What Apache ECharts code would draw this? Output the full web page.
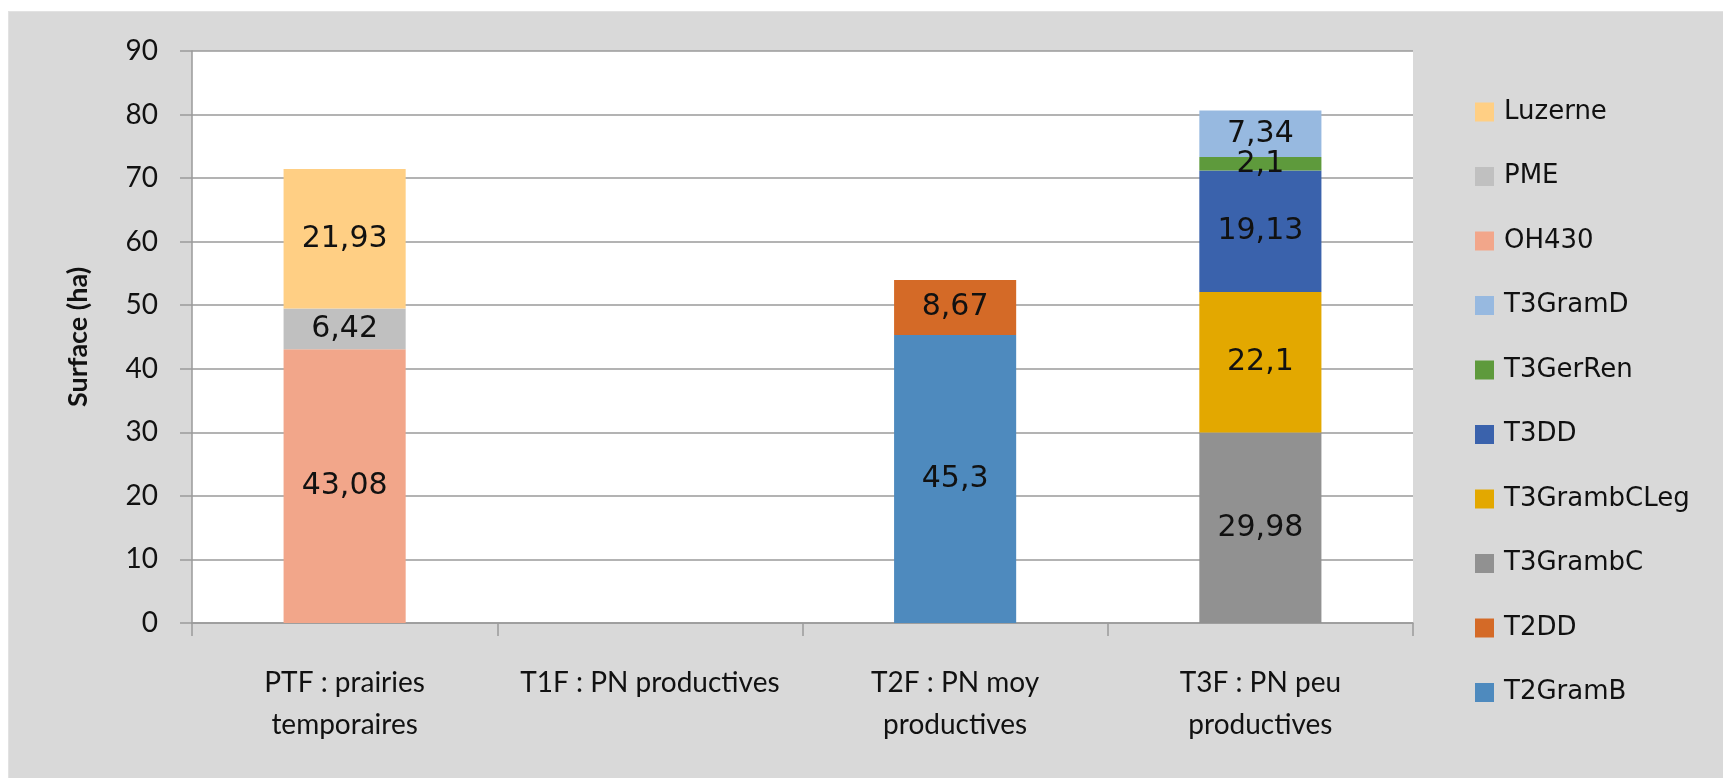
<!DOCTYPE html>
<html>
<head>
<meta charset="utf-8">
<script src="https://cdn.jsdelivr.net/npm/echarts@6/dist/echarts.min.js"></script>
<style>
  html, body { margin:0; padding:0; background:#ffffff; }
  #bg { position:absolute; left:8px; top:11px; width:1715px; height:767px; background:#d9d9d9; border-left:1px solid #e2e2e2; border-top:1px solid #e2e2e2; box-sizing:border-box; }
  #chart { position:absolute; left:0; top:0; width:1723px; height:778px; }
</style>
</head>
<body>
<div id="bg"></div>
<div id="chart"></div>
<script>
// Categories (x axis)
const categories = ["PTF : prairies\ntemporaires", "T1F : PN productives", "T2F : PN moy\nproductives", "T3F : PN peu\nproductives"];
// Y axis ticks
const yMin = 0, yMax = 90, yStep = 10;
const yAxisName = "Surface (ha)";

// Series values (stacked, bottom to top), one value per category
const T2GramB     = [null, null, 45.3, null];
const T2DD        = [null, null, 8.67, null];
const T3GrambC    = [null, null, null, 29.98];
const T3GrambCLeg = [null, null, null, 22.1];
const T3DD        = [null, null, null, 19.13];
const T3GerRen    = [null, null, null, 2.1];
const T3GramD     = [null, null, null, 7.34];
const OH430       = [43.08, null, null, null];
const PME         = [6.42, null, null, null];
const Luzerne     = [21.93, null, null, null];

const seriesDefs = [
  { name: "T2GramB", data: T2GramB, color: "#4E8ABE" },
  { name: "T2DD", data: T2DD, color: "#D46A27" },
  { name: "T3GrambC", data: T3GrambC, color: "#919191" },
  { name: "T3GrambCLeg", data: T3GrambCLeg, color: "#E3A800" },
  { name: "T3DD", data: T3DD, color: "#3A62AC" },
  { name: "T3GerRen", data: T3GerRen, color: "#5E9A3C" },
  { name: "T3GramD", data: T3GramD, color: "#97B9E0" },
  { name: "OH430", data: OH430, color: "#F2A68A" },
  { name: "PME", data: PME, color: "#C0C0C0" },
  { name: "Luzerne", data: Luzerne, color: "#FFCF84" }
];
const legendOrder = ["Luzerne", "PME", "OH430", "T3GramD", "T3GerRen", "T3DD", "T3GrambCLeg", "T3GrambC", "T2DD", "T2GramB"];

const chart = echarts.init(document.getElementById('chart'), null, { renderer: 'canvas' });
const axisGray = '#9a9a9a';

const option = {
  backgroundColor: 'transparent',
  animation: false,
  grid: {
    left: 192, right: 310, top: 51, bottom: 155,
    show: true, backgroundColor: '#ffffff', borderWidth: 0
  },
  legend: {
    orient: 'vertical',
    left: 1470, top: 92,
    itemWidth: 19, itemHeight: 19,
    itemGap: 34.5,
    icon: 'rect',
    data: legendOrder,
    textStyle: { fontFamily: 'DejaVu Sans', fontSize: 26, color: '#111', lineHeight: 30, padding: [0, 0, 0, 5] }
  },
  xAxis: {
    type: 'category',
    data: categories,
    axisLine: { show: true, lineStyle: { color: axisGray, width: 1.5 } },
    axisTick: { show: true, alignWithLabel: false, length: 13, lineStyle: { color: axisGray, width: 1.5 } },
    axisLabel: { fontFamily: 'Lato', fontSize: 28, color: '#111', margin: 39, lineHeight: 42, interval: 0 },
    splitLine: { show: false }
  },
  yAxis: {
    type: 'value',
    min: yMin, max: yMax, interval: yStep,
    name: yAxisName,
    nameLocation: 'middle',
    nameGap: 100,
    nameRotate: 90,
    nameTextStyle: { fontFamily: 'Lato', fontWeight: 'bold', fontSize: 27, color: '#111' },
    axisLine: { show: true, lineStyle: { color: axisGray, width: 1.5 } },
    axisTick: { show: true, length: 12, lineStyle: { color: axisGray, width: 1.5 } },
    axisLabel: { fontFamily: 'Lato', fontSize: 28, color: '#111', margin: 34 },
    splitLine: { show: true, lineStyle: { color: axisGray, width: 1.5 } }
  },
  series: seriesDefs.map(s => ({
    name: s.name,
    type: 'bar',
    stack: 'total',
    data: s.data,
    barWidth: '40%',
    itemStyle: { color: s.color },
    label: {
      show: true,
      position: 'inside',
      fontFamily: 'DejaVu Sans',
      fontSize: 30,
      color: '#111',
      formatter: p => (p.value == null ? '' : String(p.value).replace('.', ','))
    }
  }))
};
chart.setOption(option);
</script>
</body>
</html>
